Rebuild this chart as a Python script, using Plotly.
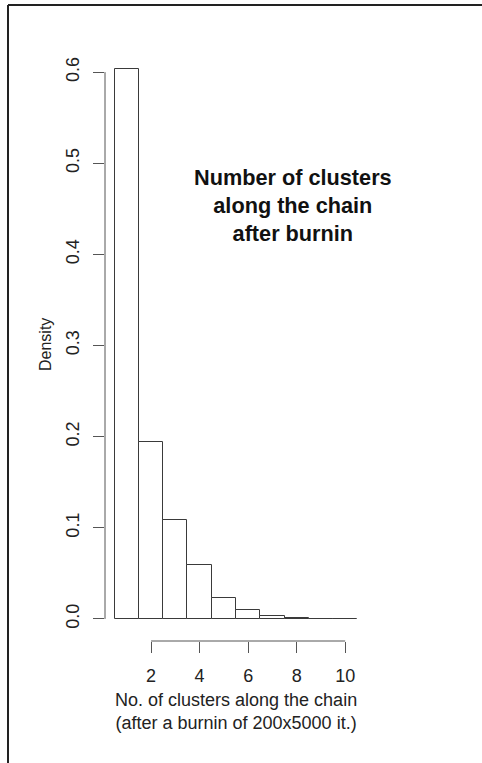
import plotly.graph_objects as go

# Data
clusters = [1, 2, 3, 4, 5, 6, 7, 8, 9, 10]
density = [0.604, 0.194, 0.109, 0.059, 0.023, 0.0095, 0.003, 0.0006, 0.0002, 0.0001]
x_ticks = [2, 4, 6, 8, 10]
y_ticks = [0.0, 0.1, 0.2, 0.3, 0.4, 0.5, 0.6]
y_tick_labels = ["0.0", "0.1", "0.2", "0.3", "0.4", "0.5", "0.6"]

W, H = 482, 763
L, R, T, B = 105, 115, 46, 122
pw, ph = W - L - R, H - T - B

def px_x(p):
    return (p - L) / pw

def px_y(p):
    return (H - B - p) / ph

FONT = "Liberation Sans, Arial, Helvetica, sans-serif"
LINE = "#3a3a3a"

fig = go.Figure()
fig.add_trace(go.Bar(
    x=clusters, y=density, width=1,
    marker=dict(color="white", line=dict(color=LINE, width=1)),
    showlegend=False, hoverinfo="x+y",
))

fig.update_layout(
    width=W, height=H,
    margin=dict(l=L, r=R, t=T, b=B, pad=0),
    paper_bgcolor="white", plot_bgcolor="white",
    font=dict(family=FONT, size=18, color="#222"),
    bargap=0,
    xaxis=dict(range=[0.1, 10.9], tickvals=x_ticks, ticks="outside", ticklen=11,
               tickcolor="#555", tickwidth=1, showgrid=False, zeroline=False,
               showline=False, tickfont=dict(size=18, color="#222"),
               ticklabelstandoff=7),
    yaxis=dict(range=[-0.0242, 0.6287], tickvals=y_ticks, ticktext=y_tick_labels,
               ticks="outside", ticklen=11, tickcolor="#555", tickwidth=1,
               showgrid=False, zeroline=False, showline=False, tickangle=-90,
               tickfont=dict(size=18, color="#222"), ticklabelstandoff=7),
)

# Axis lines spanning first to last tick (R style)
fig.add_shape(type="line", xref="x", yref="paper", x0=x_ticks[0], x1=x_ticks[-1],
              y0=0, y1=0, line=dict(color="#555", width=1))
fig.add_shape(type="line", xref="paper", yref="y", x0=0, x1=0,
              y0=y_ticks[0], y1=y_ticks[-1], line=dict(color="#555", width=1))

# Frame (top and left edges)
fig.add_shape(type="line", xref="paper", yref="paper", x0=px_x(8), x1=px_x(W + 5),
              y0=px_y(5), y1=px_y(5), line=dict(color="#222", width=2))
fig.add_shape(type="line", xref="paper", yref="paper", x0=px_x(8), x1=px_x(8),
              y0=px_y(5), y1=px_y(H + 5), line=dict(color="#222", width=2))

# Axis titles
fig.add_annotation(xref="paper", yref="paper", x=0.5, y=px_y(711),
                   text="No. of clusters along the chain<br>(after a burnin of 200x5000 it.)",
                   showarrow=False, font=dict(size=18, color="#222"),
                   xanchor="center", yanchor="middle", align="center")
fig.add_annotation(xref="paper", yref="paper", x=px_x(45), y=px_y(345),
                   text="Density", textangle=-90, showarrow=False,
                   font=dict(size=16, color="#222"), xanchor="center", yanchor="middle")

# In-plot title text
fig.add_annotation(xref="paper", yref="paper", x=px_x(293), y=px_y(205),
                   text="<b>Number of clusters<br>along the chain<br>after burnin</b>",
                   showarrow=False, font=dict(size=21.7, color="#111"),
                   xanchor="center", yanchor="middle", align="center")

fig.write_html("out.html", config={"displayModeBar": False},
               post_script="document.body.style.margin='0';document.body.style.overflow='hidden';")
